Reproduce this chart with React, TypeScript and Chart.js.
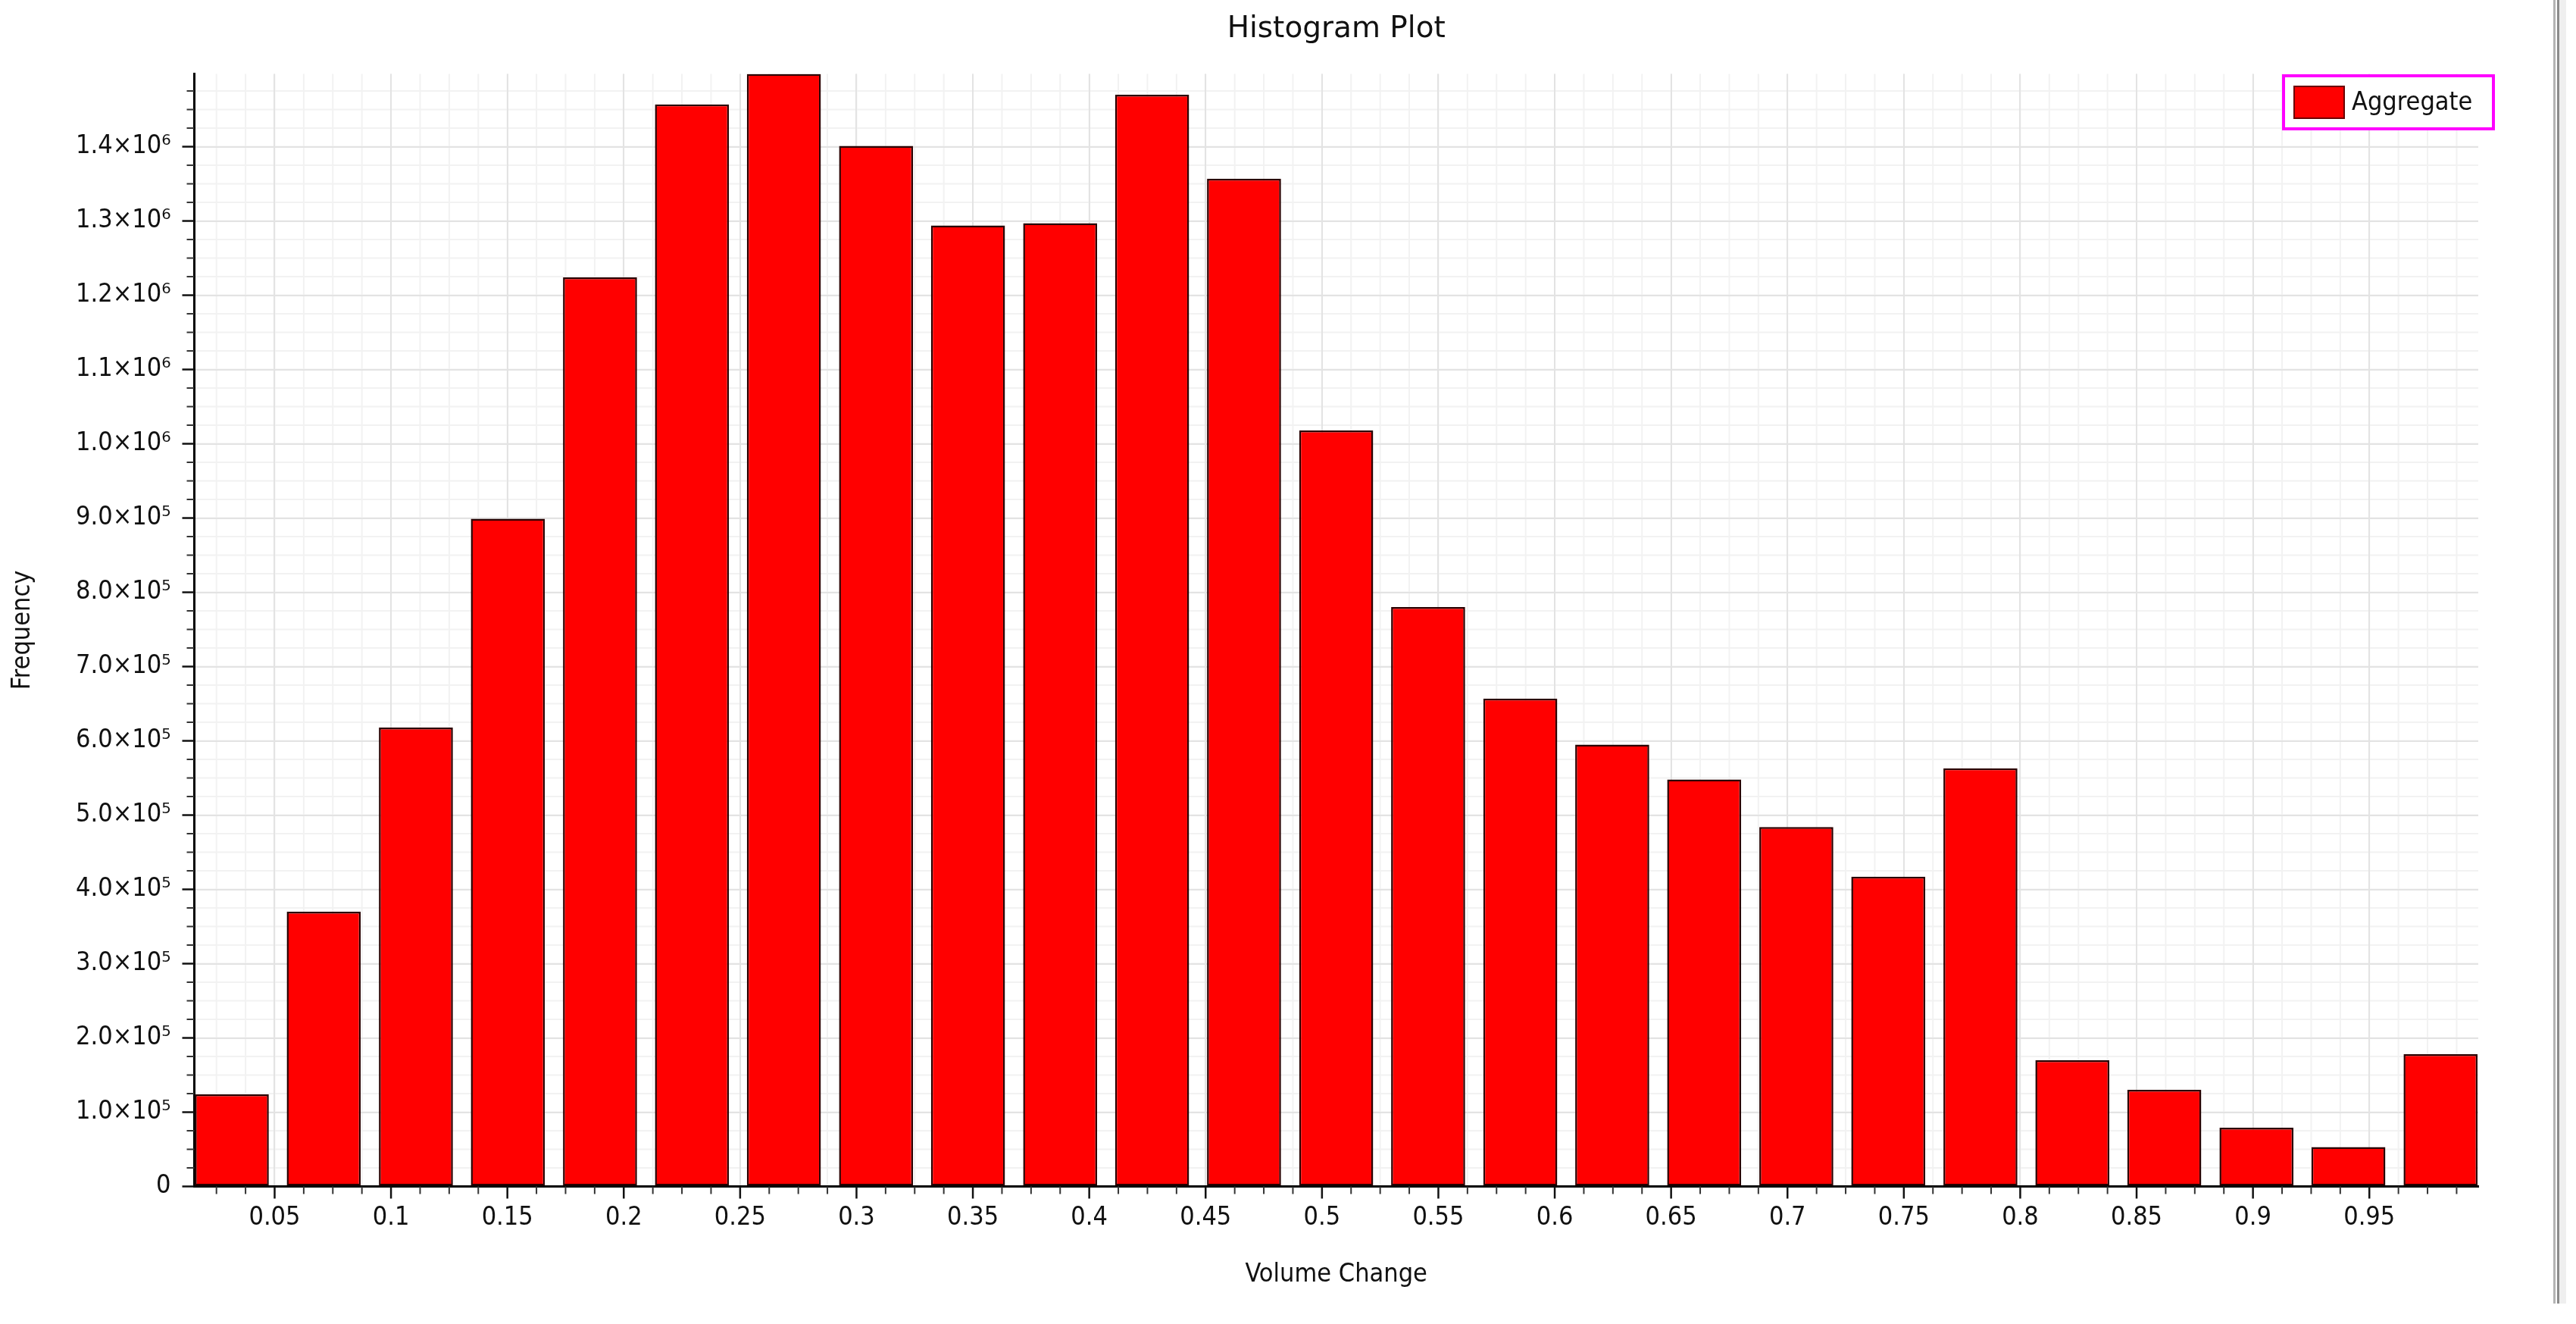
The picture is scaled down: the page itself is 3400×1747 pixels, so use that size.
import React, { useEffect, useRef } from "react";
import { Chart, registerables } from "chart.js";

Chart.register(...registerables);

// ---- data ----
const binCenters = [
  0.0316, 0.0711, 0.1107, 0.1502, 0.1898, 0.2293, 0.2688, 0.3084, 0.3479,
  0.3875, 0.427, 0.4665, 0.5061, 0.5456, 0.5852, 0.6247, 0.6642, 0.7038,
  0.7433, 0.7829, 0.8224, 0.8619, 0.9015, 0.941, 0.9806,
];
const frequencies = [
  124000, 370000, 618000, 899000, 1224000, 1457000, 1498000, 1401000, 1294000,
  1297000, 1470000, 1357000, 1018000, 780000, 657000, 595000, 548000, 484000,
  417000, 563000, 170000, 130000, 79000, 53000, 178000,
];
const xTickValues = [
  0.05, 0.1, 0.15, 0.2, 0.25, 0.3, 0.35, 0.4, 0.45, 0.5, 0.55, 0.6, 0.65, 0.7,
  0.75, 0.8, 0.85, 0.9, 0.95,
];
const yTickValues = [
  0, 100000, 200000, 300000, 400000, 500000, 600000, 700000, 800000, 900000,
  1000000, 1100000, 1200000, 1300000, 1400000,
];
const seriesLabel = "Aggregate";
const chartTitle = "Histogram Plot";
const xTitle = "Volume Change";
const yTitle = "Frequency";

const X_MIN = 0.0155;
const X_MAX = 0.9968;
const Y_MAX = 1498000;
const X_MINOR_STEP = 0.0125;
const Y_MINOR_STEP = 25000;

const FONT = "'DejaVu Sans Condensed', 'DejaVu Sans', sans-serif";
const TITLE_FONT = "'DejaVu Sans', sans-serif";
const SUP = "⁰¹²³⁴⁵⁶⁷⁸⁹";

function sci(v: number): string {
  if (Math.abs(v) < 1e-9) return "0";
  const e = Math.floor(Math.log10(v) + 1e-9);
  const m = v / Math.pow(10, e);
  return (
    m.toFixed(1) +
    "×10" +
    String(e)
      .split("")
      .map((d) => SUP[Number(d)])
      .join("")
  );
}

function steps(min: number, max: number, step: number): number[] {
  const out: number[] = [];
  for (let k = Math.ceil(min / step - 1e-9); k * step <= max + 1e-9; k++) {
    out.push(Number((k * step).toFixed(6)));
  }
  return out;
}

const isIn = (arr: number[], v: number) => arr.some((t) => Math.abs(t - v) < 1e-7 * Math.max(1, Math.abs(t)));

const decorPlugin = {
  id: "decor",
  beforeDraw(chart: any) {
    const { ctx, chartArea: a, scales } = chart;
    const x = scales.x;
    const y = scales.y;
    ctx.save();
    ctx.fillStyle = "#ffffff";
    ctx.fillRect(0, 0, chart.width, chart.height);
    ctx.strokeStyle = "#f2f2f2";
    ctx.lineWidth = 2;
    ctx.beginPath();
    for (const v of steps(X_MIN, X_MAX, X_MINOR_STEP)) {
      const px = x.getPixelForValue(v);
      ctx.moveTo(px, a.top);
      ctx.lineTo(px, a.bottom);
    }
    for (const v of steps(0, Y_MAX, Y_MINOR_STEP)) {
      const py = y.getPixelForValue(v);
      ctx.moveTo(a.left, py);
      ctx.lineTo(a.right, py);
    }
    ctx.stroke();
    ctx.restore();
  },
  afterDraw(chart: any) {
    const { ctx, chartArea: a, scales } = chart;
    const x = scales.x;
    const y = scales.y;
    ctx.save();
    // tick marks
    for (const v of steps(X_MIN, X_MAX, X_MINOR_STEP)) {
      const major = isIn(xTickValues, v);
      const px = x.getPixelForValue(v);
      ctx.strokeStyle = major ? "#111" : "#333";
      ctx.lineWidth = major ? 2.5 : 2;
      ctx.beginPath();
      ctx.moveTo(px, a.bottom);
      ctx.lineTo(px, a.bottom + (major ? 16 : 10));
      ctx.stroke();
    }
    for (const v of steps(0, Y_MAX, Y_MINOR_STEP)) {
      const major = isIn(yTickValues, v);
      const py = y.getPixelForValue(v);
      ctx.strokeStyle = major ? "#111" : "#333";
      ctx.lineWidth = major ? 2.5 : 2;
      ctx.beginPath();
      ctx.moveTo(a.left - (major ? 16 : 10), py);
      ctx.lineTo(a.left, py);
      ctx.stroke();
    }
    // legend
    const ds = chart.data.datasets[0];
    const bx = a.right - 259;
    const by = a.top + 0.5;
    const bw = 281;
    const bh = 74;
    ctx.fillStyle = "#ffffff";
    ctx.fillRect(bx, by, bw, bh);
    ctx.strokeStyle = "#ff00ff";
    ctx.lineWidth = 4;
    ctx.strokeRect(bx + 2, by + 2, bw - 4, bh - 4);
    ctx.fillStyle = ds.backgroundColor;
    ctx.fillRect(bx + 16, by + 16, 66, 42);
    ctx.strokeStyle = "#6b0000";
    ctx.lineWidth = 2;
    ctx.strokeRect(bx + 16, by + 16, 66, 42);
    ctx.fillStyle = "#111";
    ctx.font = `34px ${FONT}`;
    ctx.textAlign = "left";
    ctx.textBaseline = "middle";
    ctx.fillText(ds.label, bx + 92, by + 38);
    ctx.restore();
  },
};

export default function App() {
  const ref = useRef<HTMLCanvasElement | null>(null);

  useEffect(() => {
    if (!ref.current) return;
    const chart = new Chart(ref.current, {
      type: "bar",
      data: {
        datasets: [
          {
            label: seriesLabel,
            data: binCenters.map((c, i) => ({ x: c, y: frequencies[i] })),
            backgroundColor: "#ff0000",
            borderColor: "#2a0000",
            borderWidth: 2.5,
            borderSkipped: false,
            barPercentage: 0.805,
            categoryPercentage: 1,
          } as any,
        ],
      },
      options: {
        animation: false,
        responsive: false,
        devicePixelRatio: 1,
        layout: { padding: { left: 0, top: 0, right: 129, bottom: 0 } },
        plugins: {
          legend: { display: false },
          tooltip: { enabled: false },
          title: {
            display: true,
            text: chartTitle,
            fullSize: false,
            color: "#111",
            font: { family: TITLE_FONT, size: 39, weight: "normal" as any },
            padding: { top: 15.6, bottom: 35.1 },
          },
        },
        scales: {
          x: {
            type: "linear",
            min: X_MIN,
            max: X_MAX,
            offset: false,
            afterBuildTicks: (s: any) => {
              s.ticks = xTickValues.map((v) => ({ value: v }));
            },
            afterFit: (s: any) => {
              s.height = 181.5;
            },
            grid: { color: "#e3e3e3", lineWidth: 2, drawTicks: false, offset: false },
            border: { display: true, color: "#000", width: 3 },
            ticks: {
              autoSkip: false,
              maxRotation: 0,
              minRotation: 0,
              padding: 21,
              color: "#111",
              font: { family: FONT, size: 34 },
              callback: (v: any) => String(Math.round(Number(v) * 100) / 100),
            },
            title: {
              display: true,
              text: xTitle,
              color: "#111",
              font: { family: FONT, size: 34 },
              padding: { top: 0, bottom: 44.6 },
            },
          },
          y: {
            type: "linear",
            min: 0,
            max: Y_MAX,
            afterBuildTicks: (s: any) => {
              s.ticks = yTickValues.map((v) => ({ value: v }));
            },
            afterFit: (s: any) => {
              s.width = 256.5;
            },
            grid: { color: "#e3e3e3", lineWidth: 2, drawTicks: false },
            border: { display: true, color: "#000", width: 3 },
            ticks: {
              autoSkip: false,
              padding: 31,
              color: "#111",
              font: { family: FONT, size: 34 },
              callback: (v: any) => sci(Number(v)),
            },
            title: {
              display: true,
              text: yTitle,
              color: "#111",
              font: { family: FONT, size: 34 },
              padding: { top: 9.6, bottom: 0 },
            },
          },
        },
      },
      plugins: [decorPlugin],
    } as any);
    return () => chart.destroy();
  }, []);

  return (
    <div style={{ position: "absolute", left: 0, top: 0, width: 3400, height: 1747, background: "#fff", overflow: "hidden" }}>
      <canvas ref={ref} width={3400} height={1747} style={{ position: "absolute", left: 0, top: 0, width: 3400, height: 1747 }} />
      <div style={{ position: "absolute", left: 3370, top: 0, width: 3, height: 1720, background: "#b4b4b4" }} />
      <div style={{ position: "absolute", left: 3375, top: 0, width: 3, height: 1720, background: "#8c8c8c" }} />
      <div style={{ position: "absolute", left: 3378, top: 0, width: 9, height: 1720, background: "#efefef" }} />
    </div>
  );
}
